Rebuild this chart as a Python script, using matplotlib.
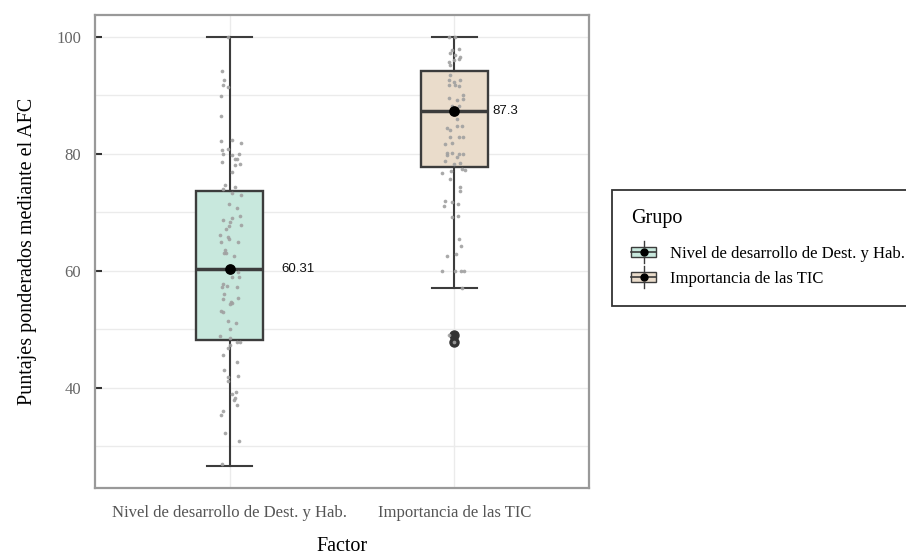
import matplotlib
matplotlib.use("Agg")
import matplotlib.pyplot as plt
from matplotlib.patches import Patch, Rectangle
from matplotlib.lines import Line2D
from matplotlib.legend_handler import HandlerBase
from matplotlib.ticker import MultipleLocator


## Data
groups = ["Nivel de desarrollo de Dest. y Hab.", "Importancia de las TIC"]
fills = ["#C8E8DD", "#EADCCB"]

# box stats (lower whisker, q1, median, q3, upper whisker)
whislo = [26.65, 57.0]
q1 = [48.2, 77.8]
medians = [60.31, 87.3]
q3 = [73.7, 94.1]
whishi = [100.0, 100.0]
outliers = [[], [49.1, 47.8]]

# jittered observations
vals_1 = [94.15, 92.6, 91.7, 91.4, 89.9, 86.5, 82.2, 82.3, 81.8, 80.7, 80.8, 79.9, 80.0, 79.7,
          79.1, 79.1, 78.6, 78.2, 78.0, 76.9,
          74.6, 74.0, 74.4, 73.3, 73.0, 71.4, 70.7, 69.4, 69.0, 68.6, 68.3, 67.9, 67.7, 67.2,
          66.2, 65.8, 65.5, 64.9, 64.9, 63.5, 63.0, 63.0, 62.6, 59.8, 59.0, 58.9, 57.8, 57.3,
          57.4, 57.3, 56.1, 55.3, 55.1, 54.6, 54.3, 54.5, 53.2, 52.9, 51.4, 51.0,
          50.0, 48.8, 48.6, 47.8, 47.8, 47.4, 46.8, 45.6, 44.5, 43.1, 42.1, 41.8, 41.1, 39.3,
          39.0, 38.2, 38.0, 37.0, 36.1, 35.3, 32.3, 30.9, 27.0, 100.0]
jit_1 = [-0.034, -0.025, -0.030, -0.006, -0.040, -0.040, -0.041, 0.009, 0.052, -0.034, -0.008,
         -0.028, 0.043, 0.012, 0.022, 0.034, -0.034, 0.045, 0.024, 0.012,
         -0.021, -0.030, 0.024, 0.012, 0.052, -0.004, 0.034, 0.046, 0.008, -0.031, 0.0, 0.050,
         -0.003, -0.015, -0.045, -0.006, -0.003, -0.041, 0.037, -0.019, -0.025, -0.015, 0.021,
         0.036, 0.009, 0.041, -0.030, -0.036, -0.013, 0.031, -0.024, 0.037, -0.028, 0.004,
         -0.001, 0.010, -0.040, -0.030, -0.010, 0.030,
         0.003, -0.043, 0.001, 0.034, 0.045, 0.0, -0.010, -0.028, 0.031, -0.025, 0.036, -0.010,
         -0.006, 0.030, 0.012, 0.025, 0.019, 0.031, -0.031, -0.041, -0.021, 0.039, -0.033, -0.009]

vals_2 = [100.0, 100.0, 97.7, 97.9, 97.2, 96.9, 96.6, 95.7, 96.0, 95.2, 96.1,
          93.5, 92.6, 92.3, 92.6, 91.8, 91.8, 91.6, 90.1, 89.5, 89.2, 89.3, 88.1, 88.2, 86.0,
          84.4, 84.1, 84.8, 84.8, 82.9, 82.9, 82.9, 81.7, 81.9, 80.1, 80.2, 80.0, 79.9, 79.7,
          79.5, 78.7, 78.3, 78.4,
          77.4, 77.2, 76.7, 77.0, 75.6, 74.4, 73.7, 71.9, 71.0, 71.8, 71.4, 69.2, 69.4, 65.5,
          64.3, 62.6, 62.8, 60.0, 60.0, 60.0, 60.0, 57.1, 49.1, 47.8]
jit_2 = [0.004, -0.025, -0.011, 0.019, -0.018, 0.004, 0.027, -0.025, -0.003, -0.018, 0.019,
         -0.018, -0.025, -0.003, 0.027, 0.004, -0.025, 0.019, 0.041, -0.025, 0.012, 0.041,
         0.019, -0.011, 0.010, -0.033, -0.018, 0.012, 0.034, -0.018, 0.019, 0.041, -0.040,
         -0.011, -0.033, -0.011, 0.019, 0.041, -0.033, 0.012, -0.040, -0.003, 0.027,
         0.034, 0.046, -0.055, -0.015, -0.021, 0.027, 0.027, -0.040, -0.045, -0.008, 0.015,
         -0.009, 0.016, 0.022, 0.028, -0.033, 0.006, -0.053, 0.004, 0.031, 0.045, 0.036,
         -0.025, 0.0]

values = [vals_1, vals_2]
jitter = [jit_1, jit_2]

line_col = "#3C3C3C"
serif = "Liberation Serif"


class BoxKey(HandlerBase):
    # small boxplot glyph for the legend keys
    def create_artists(self, legend, orig_handle, xdescent, ydescent, width, height, fontsize, trans):
        fc = orig_handle.get_facecolor()
        cx = width / 2 - xdescent
        cy = height / 2 - ydescent
        whisk = Line2D([cx, cx], [cy - 0.75 * height, cy + 0.75 * height], color=line_col, lw=1.0, transform=trans)
        rect = Rectangle((-xdescent, cy - 0.32 * height), width, 0.64 * height,
                         facecolor=fc, edgecolor=line_col, lw=1.0, transform=trans)
        med = Line2D([-xdescent, width - xdescent], [cy, cy], color=line_col, lw=1.2, transform=trans)
        dot = Line2D([cx], [cy], marker="o", color="black", markersize=5, lw=0, transform=trans)
        return [whisk, rect, med, dot]


fig = plt.figure(figsize=(9.06, 5.57), dpi=100)
ax = fig.add_axes([0.1049, 0.1239, 0.5452, 0.8492])

positions = [1, 2]
stats = []
for i in range(len(groups)):
    stats.append(dict(whislo=whislo[i], q1=q1[i], med=medians[i], q3=q3[i], whishi=whishi[i], fliers=outliers[i]))

bp = ax.bxp(stats, positions=positions, widths=0.3, patch_artist=True, showfliers=True,
            boxprops=dict(edgecolor=line_col, linewidth=1.7),
            whiskerprops=dict(color=line_col, linewidth=1.5),
            capprops=dict(color=line_col, linewidth=1.5),
            medianprops=dict(color=line_col, linewidth=2.5),
            flierprops=dict(marker="o", markerfacecolor="#333333", markeredgecolor="#333333", markersize=6.5),
            capwidths=0.2, zorder=2)
for patch, c in zip(bp["boxes"], fills):
    patch.set_facecolor(c)

# jittered points
for i in range(len(groups)):
    xs = [positions[i] + d for d in jitter[i]]
    ax.scatter(xs, values[i], s=7, color="#A0A0A0", alpha=0.9, linewidths=0, zorder=3)

# median dot + label
label_dx = [0.23, 0.17]
for i in range(len(groups)):
    ax.scatter([positions[i]], [medians[i]], s=45, color="black", zorder=5)
    ax.text(positions[i] + label_dx[i], medians[i], f"{medians[i]:g}", ha="left", va="center",
            fontsize=9.5, family="Liberation Sans", color="#111111")

ax.set_xlim(0.4, 2.6)
ax.set_ylim(22.9, 103.7)
ax.yaxis.set_major_locator(MultipleLocator(20))
ax.yaxis.set_minor_locator(MultipleLocator(10))
ax.set_xticks(positions)
ax.set_xticklabels(groups, family=serif, fontsize=12, color="#555555")
for t in ax.get_yticklabels():
    t.set_family(serif)
ax.tick_params(axis="y", labelsize=12, labelcolor="#666666", direction="in", length=5, width=1.5, color="#333333", pad=10)
ax.tick_params(axis="y", which="minor", length=0)
ax.tick_params(axis="x", length=0, pad=12)
ax.grid(True, which="both", color="#EBEBEB", linewidth=1.0, zorder=0)
ax.set_axisbelow(True)
for s in ax.spines.values():
    s.set_color("#999999")
    s.set_linewidth(1.6)

ax.set_xlabel("Factor", family=serif, fontsize=14.5, labelpad=12)
ax.set_ylabel("Puntajes ponderados mediante el AFC", family=serif, fontsize=14.5, labelpad=14)

handles = [Patch(facecolor=c) for c in fills]
leg = fig.legend(handles, groups, title="Grupo", loc="upper left", bbox_to_anchor=(0.6755, 0.659),
                 handler_map={Patch: BoxKey()}, prop={"family": serif, "size": 12},
                 title_fontproperties={"family": serif, "size": 14.5},
                 frameon=True, fancybox=False, edgecolor="black", handlelength=1.5,
                 handleheight=1.0, labelspacing=0.45, borderpad=1.15, handletextpad=0.8,
                 borderaxespad=0)
leg._legend_box.align = "left"
leg._legend_box.sep = 12
leg.get_frame().set_linewidth(1.3)

fig.savefig("out.png", dpi=100)
